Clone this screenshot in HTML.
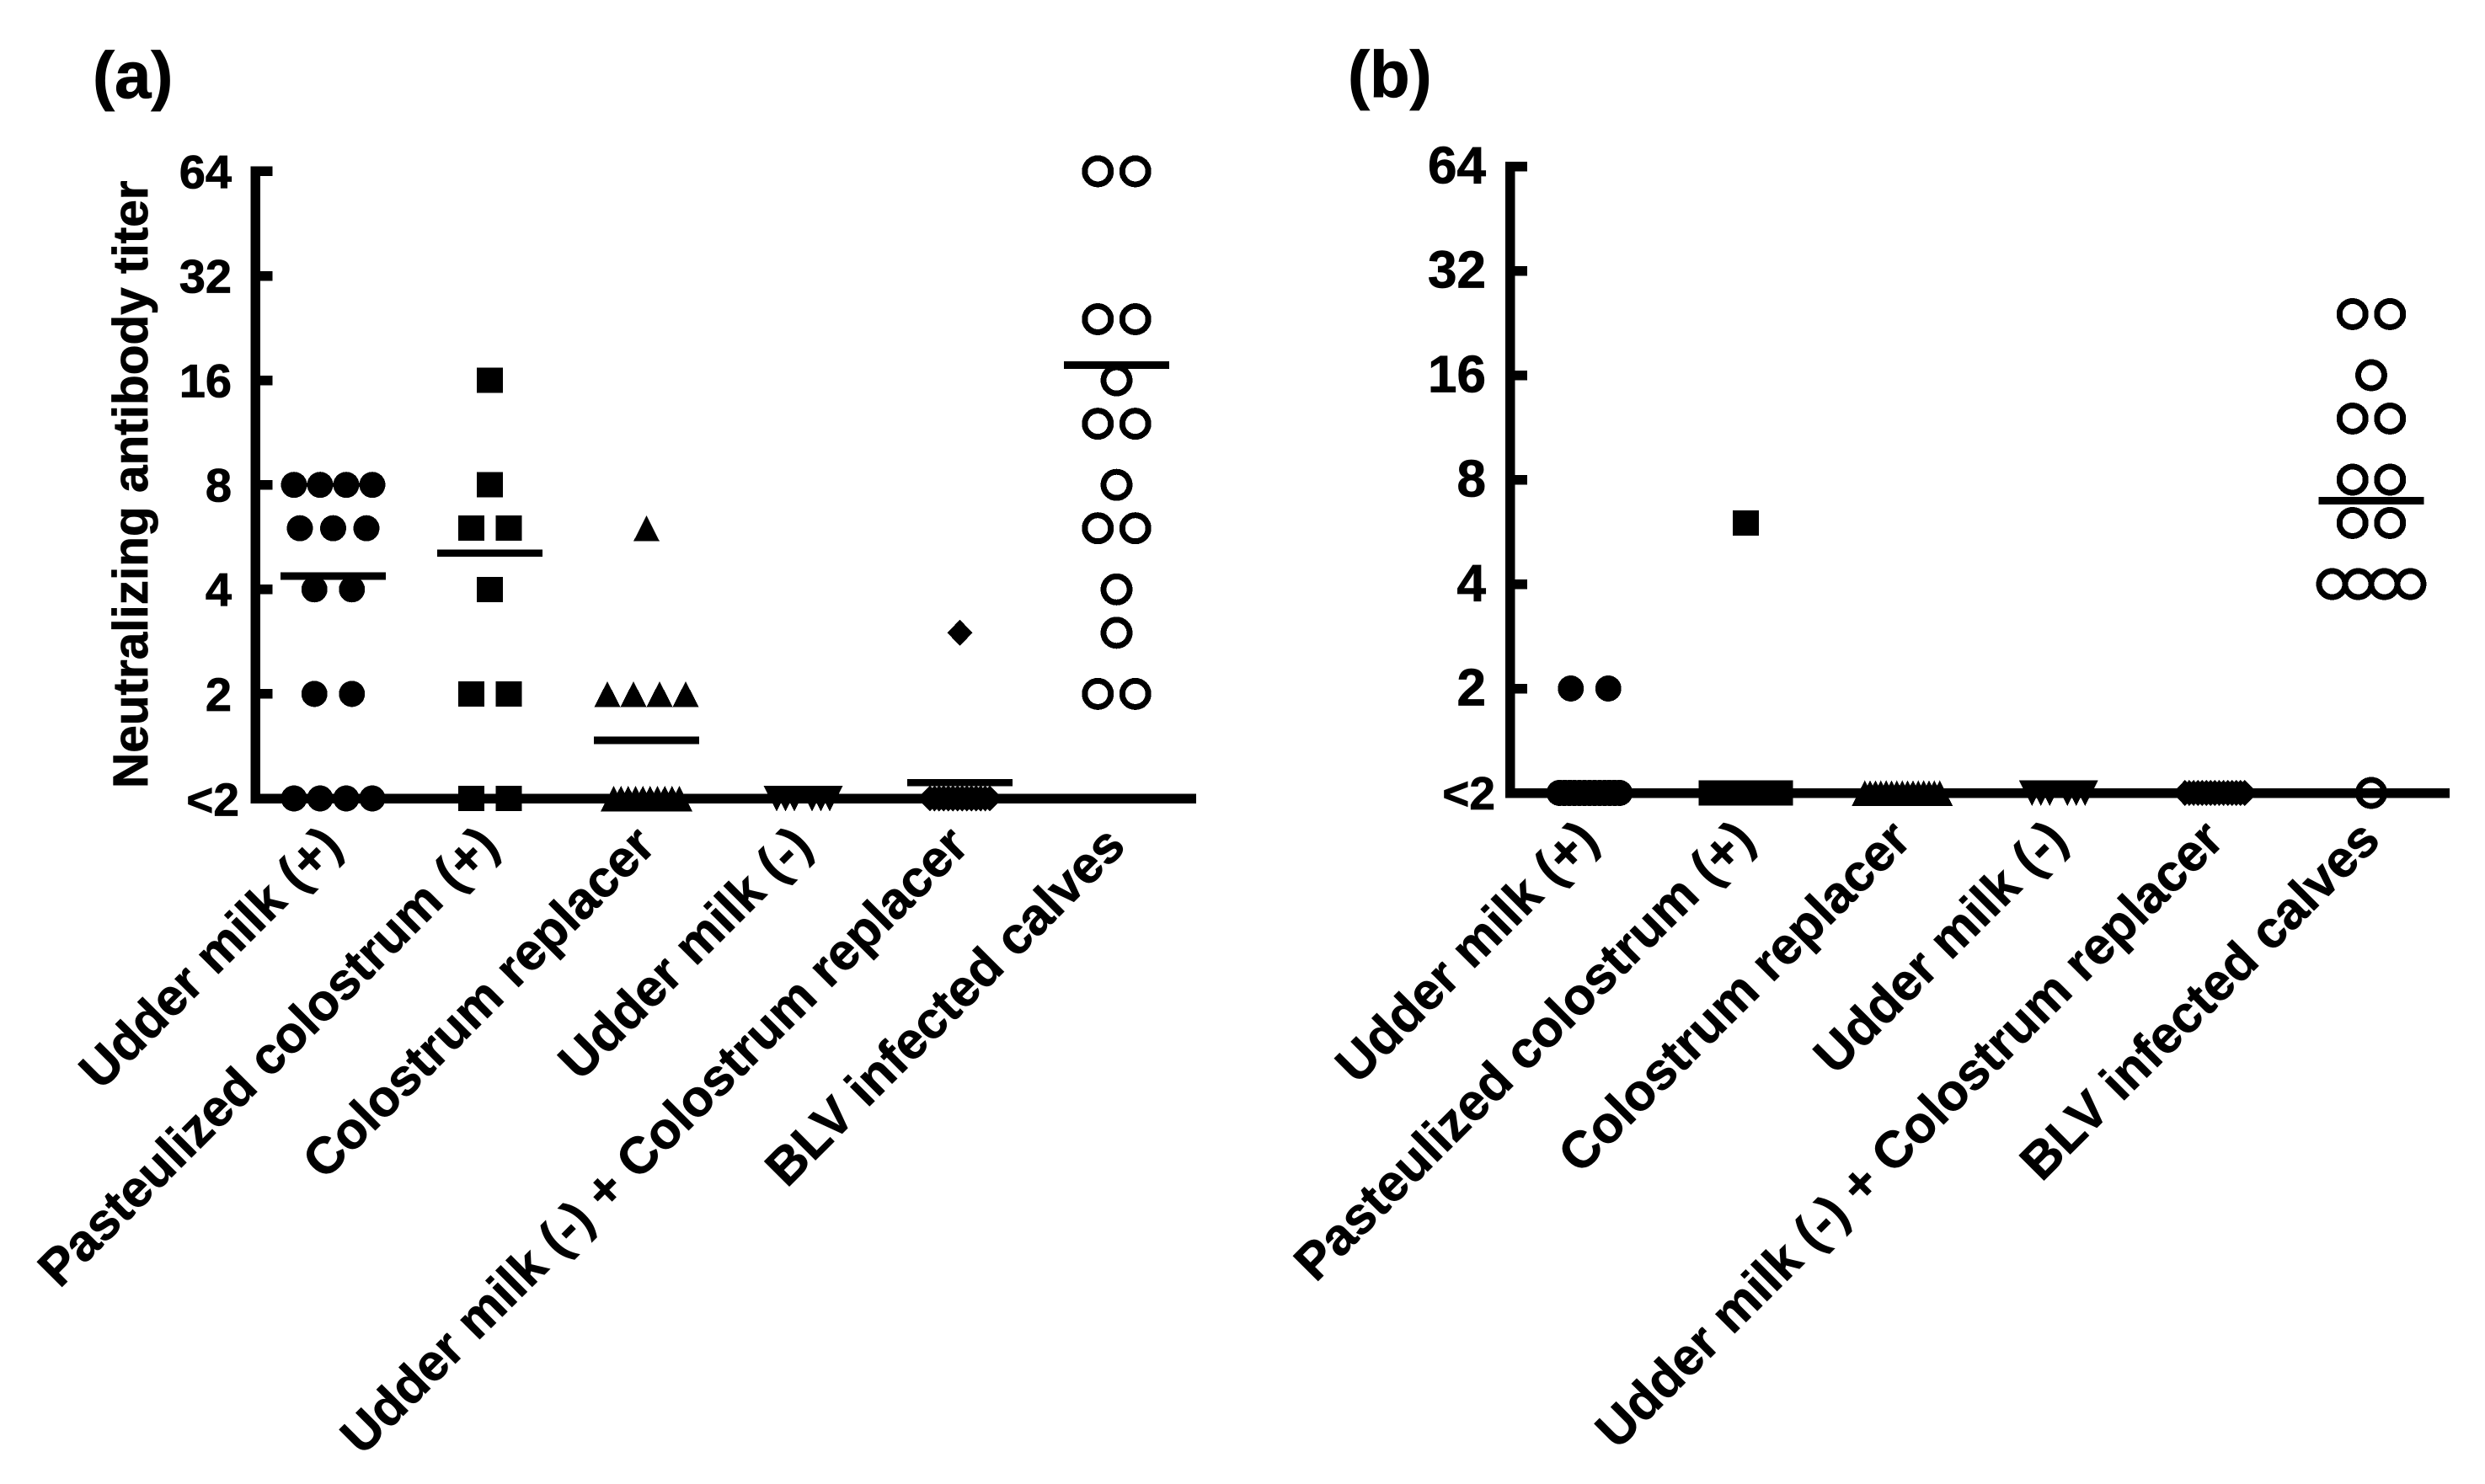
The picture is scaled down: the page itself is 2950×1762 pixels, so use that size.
<!DOCTYPE html>
<html lang="en">
<head>
<meta charset="utf-8">
<title>Neutralizing antibody titer</title>
<style>
html,body{margin:0;padding:0;background:#fff;}
svg{display:block;}
text{font-family:"Liberation Sans",Arial,sans-serif;font-weight:bold;fill:#000;stroke:#000;stroke-width:0.8px;}
</style>
</head>
<body>
<svg id="chart" xmlns="http://www.w3.org/2000/svg" width="2950" height="1762" viewBox="0 0 2950 1762">
<rect x="0" y="0" width="2950" height="1762" fill="#fff"/>
<text x="110" y="116" font-size="78">(a)</text>
<text x="1600" y="115" font-size="78">(b)</text>
<text transform="translate(175,936) rotate(-90)" font-size="58.5">Neutralizing antibody titer</text>
</svg>
<script>
const categories = ["Udder milk (+)", "Pasteulized colostrum (+)", "Colostrum replacer", "Udder milk (-)", "Udder milk (-) + Colostrum replacer", "BLV infected calves"];
const tickValues = [1, 2, 4, 8, 16, 32, 64];
const tickLabels = ["<2", "2", "4", "8", "16", "32", "64"];
// Titers per animal; 1 stands for the "<2" group.
const panelAUdderPos = [8,8,8,8,6,6,6,4,4,2,2,1,1,1,1];
const panelAColostrumPos = [16,8,6,6,4,2,2,1,1];
const panelAReplacer = [6,2,2,2,2,1,1,1,1,1,1,1,1,1,1];
const panelAUdderNeg = [1,1,1,1,1,1];
const panelAMixed = [3,1,1,1,1,1,1,1,1,1,1,1,1,1,1];
const panelAInfected = [64,64,24,24,16,12,12,8,6,6,4,3,2,2];
const panelAMeans = [4.37, 5.09, 1.47, null, 1.11, 17.7];
const panelBUdderPos = [2,2,1,1,1,1,1,1,1,1,1,1,1,1,1];
const panelBColostrumPos = [6,1,1,1,1,1,1,1,1];
const panelBReplacer = [1,1,1,1,1,1,1,1,1,1,1,1,1,1,1];
const panelBUdderNeg = [1,1,1,1,1,1];
const panelBMixed = [1,1,1,1,1,1,1,1,1,1,1,1,1,1,1];
const panelBInfected = [24,24,16,12,12,8,8,6,6,4,4,4,4,1];
const panelBMeans = [null, null, null, null, null, 6.96];
const markerKinds = ["circle", "square", "triangle", "inverted", "diamond", "ring"];

const SVGNS = "http://www.w3.org/2000/svg";
const svg = document.getElementById("chart");

function add(parent, tag, attrs) {
  const el = document.createElementNS(SVGNS, tag);
  for (const k in attrs) el.setAttribute(k, attrs[k]);
  parent.appendChild(el);
  return el;
}

function rowSpread(n, kind) {
  if (n <= 1) return 0;
  if (n === 2) return 44.5;
  if (n === 3) return 79;
  if (n === 4) return 93;
  if (kind === "triangle") return n >= 15 ? 89 : 78;
  if (kind === "square") return 81;
  if (kind === "diamond") return 71;
  if (kind === "circle") return 71.5;
  if (kind === "inverted") return 52.5;
  return 6 * (n - 1);
}

function rowOffsets(n, kind) {
  const out = [];
  const spread = rowSpread(n, kind);
  for (let i = 0; i < n; i++) {
    let off = n > 1 ? -spread / 2 + spread * i / (n - 1) : 0;
    if (kind === "inverted" && n > 4) off += (i < n / 2 ? -5.25 : 5.25);
    out.push(off);
  }
  return out;
}

function drawMarker(group, kind, cx, cy) {
  const common = {"shape-rendering": "crispEdges"};
  let el;
  if (kind === "circle") {
    el = add(group, "circle", Object.assign({cx: cx, cy: cy, r: 15.5, fill: "#000"}, common));
  } else if (kind === "ring") {
    el = add(group, "circle", Object.assign({cx: cx, cy: cy, r: 15.5, fill: "none", stroke: "#000", "stroke-width": 7}, common));
  } else if (kind === "square") {
    el = add(group, "rect", Object.assign({x: cx - 15.5, y: cy - 15, width: 31, height: 30, fill: "#000"}, common));
  } else if (kind === "triangle") {
    el = add(group, "polygon", Object.assign({points: [cx - 15.5, cy + 15.5, cx, cy - 15, cx + 15.5, cy + 15.5].join(","), fill: "#000"}, common));
  } else if (kind === "inverted") {
    el = add(group, "polygon", Object.assign({points: [cx - 15.5, cy - 15, cx, cy + 15.5, cx + 15.5, cy - 15].join(","), fill: "#000"}, common));
  } else {
    el = add(group, "polygon", Object.assign({points: [cx - 15, cy, cx, cy - 15.5, cx + 15, cy, cx, cy + 15.5].join(","), fill: "#000"}, common));
  }
  return el;
}

function drawPanel(cfg) {
  const yScale = v => cfg.y0 - cfg.step * Math.log2(v);
  const xScale = i => cfg.x0 + cfg.dx * i;

  const panel = add(svg, "g", {});
  
  

  const yAxis = add(panel, "rect", {
    x: cfg.axisX, y: yScale(64) - 5.75, width: 11.6,
    height: yScale(1) - yScale(64) + 11.5, fill: "#000", "shape-rendering": "crispEdges"
  });
  
  

  const xAxis = add(panel, "rect", {
    x: cfg.axisX, y: yScale(1) - 5.75, width: cfg.axisEnd - cfg.axisX,
    height: 11.5, fill: "#000", "shape-rendering": "crispEdges"
  });
  
  

  tickValues.forEach((v, i) => {
    const yy = yScale(v);
    if (v > 1) {
      const tick = add(panel, "rect", {
        x: cfg.axisX + 11, y: yy - 5.75, width: 15, height: 11.5,
        fill: "#000", "shape-rendering": "crispEdges"
      });
      
      
    }
    const isLow = v === 1;
    const fs = isLow ? cfg.lowFont : cfg.tickFont;
    const label = add(panel, "text", {
      x: isLow ? cfg.lowRight : cfg.tickRight,
      y: yy + (isLow ? cfg.lowShift : cfg.tickShift) + 0.355 * fs,
      "font-size": fs, "text-anchor": "end"
    });
    label.textContent = tickLabels[i];
    
    
  });

  cfg.series.forEach((values, i) => {
    const kind = markerKinds[i];
    const group = add(panel, "g", {});
    
    
    const bins = new Map();
    values.forEach(v => bins.set(v, (bins.get(v) || 0) + 1));
    bins.forEach((n, v) => {
      rowOffsets(n, kind).forEach(off => {
        const mark = drawMarker(group, kind, xScale(i) + off, yScale(v));
        
        
      });
    });
    const m = cfg.means[i];
    if (m !== null && m !== undefined) {
      const line = add(group, "rect", {
        x: xScale(i) - 62.5, y: yScale(m) - 4.35, width: 125, height: 8.7,
        fill: "#000", "shape-rendering": "crispEdges"
      });
      
      
    }
  });

  categories.forEach((c, i) => {
    const ax = xScale(i) + cfg.labelDx;
    const ay = cfg.labelY;
    const t = add(panel, "text", {
      transform: "translate(" + ax + "," + ay + ") rotate(-45)",
      "font-size": cfg.catFont, "text-anchor": "end"
    });
    t.textContent = c;
    
    
  });
}

drawPanel({
  name: "panel-a", axisX: 297.4, axisEnd: 1420, y0: 948, step: 124.1, x0: 395.5, dx: 186,
  series: [panelAUdderPos, panelAColostrumPos, panelAReplacer, panelAUdderNeg, panelAMixed, panelAInfected],
  means: panelAMeans, tickFont: 56, tickRight: 275, tickShift: 0, lowFont: 55, lowRight: 284, lowShift: 1,
  catFont: 61, labelDx: 13, labelY: 1007
});
drawPanel({
  name: "panel-b", axisX: 1787, axisEnd: 2908, y0: 941.5, step: 124, x0: 1887, dx: 185.6,
  series: [panelBUdderPos, panelBColostrumPos, panelBReplacer, panelBUdderNeg, panelBMixed, panelBInfected],
  means: panelBMeans, tickFont: 62, tickRight: 1764, tickShift: -2, lowFont: 55, lowRight: 1775, lowShift: 0,
  catFont: 61, labelDx: 13, labelY: 1000
});
</script>
</body>
</html>
